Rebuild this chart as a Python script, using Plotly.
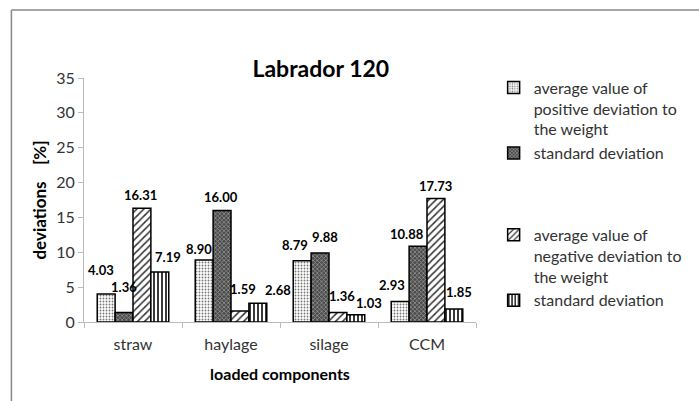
import plotly.graph_objects as go

# datos
componentes = ['straw', 'haylage', 'silage', 'CCM']
desv_positiva = [4.03, 8.90, 8.79, 2.93]
desv_std_positiva = [1.36, 16.00, 9.88, 10.88]
desv_negativa = [16.31, 1.59, 1.36, 17.73]
desv_std_negativa = [7.19, 2.68, 1.03, 1.85]

series = [desv_positiva, desv_std_positiva, desv_negativa, desv_std_negativa]

nombres = [
    'average value of<br>positive deviation to<br>the weight',
    'standard deviation',
    'average value of<br>negative deviation to<br>the weight',
    'standard deviation',
]

# estilo de relleno de cada serie (tipo Excel blanco y negro)
patrones = [
    dict(shape='.', bgcolor='white', fgcolor='#777777', size=3, solidity=0.3),
    dict(shape='x', bgcolor='#4a4a4a', fgcolor='#a0a0a0', size=3, solidity=0.4),
    dict(shape='/', bgcolor='white', fgcolor='#333333', size=5, solidity=0.3),
    dict(shape='|', bgcolor='white', fgcolor='#222222', size=4, solidity=0.45),
]
grupos = ['a', 'a', 'b', 'b']

# desplazamiento (px) de cada etiqueta respecto al tope de su barra, como en el original
desplaz_x = [[-5, 0, -1, 8], [-5, -1, 3, 20], [-7, 5, 4, 13], [-8, -11, 0, 5]]
desplaz_y = [[24, 26, 13, 15], [11, 13, 22, 13], [16, 16, 17, 12], [17, 12, 12, 17]]

bargap = 0.27
ancho_barra = (1 - bargap) / len(series)

fig = go.Figure()

for serie, nombre, patron, grupo in zip(series, nombres, patrones, grupos):
    fig.add_trace(go.Bar(
        x=componentes, y=serie, name=nombre, legendgroup=grupo,
        marker=dict(color='white', pattern=dict(fillmode='replace', **patron),
                    line=dict(color='black', width=1.5)),
    ))

# etiquetas de valores
for j, serie in enumerate(series):
    for i, v in enumerate(serie):
        fig.add_annotation(
            x=i + (j - 1.5) * ancho_barra, y=v, xref='x', yref='y',
            text='<b>%.2f</b>' % v, showarrow=False,
            xshift=desplaz_x[i][j], yshift=desplaz_y[i][j], yanchor='middle',
            font=dict(family='Lato', size=13, color='black'),
        )

fig.update_layout(
    width=699, height=401, barmode='group', bargap=bargap, bargroupgap=0,
    margin=dict(l=84, r=210, t=78, b=79),
    plot_bgcolor='white', paper_bgcolor='white',
    font=dict(family='Lato', size=16, color='#333333'),
    title=dict(text='<b>Labrador 120</b>', x=0.459, xanchor='center',
               y=1 - 69 / 401, yanchor='middle',
               font=dict(family='Lato', size=23, color='black')),
    legend=dict(x=1.045, y=1.03, xanchor='left', yanchor='top',
                traceorder='grouped', tracegroupgap=58,
                valign='top', itemwidth=30, maxheight=1,
                font=dict(family='Lato', size=16, color='#333333'),
                bgcolor='rgba(0,0,0,0)'),
)

fig.update_xaxes(
    title=dict(text='<b>loaded components</b>', standoff=16,
               font=dict(family='Lato', size=16, color='black')),
    automargin=False, showline=True, linecolor='#bbbbbb', linewidth=1,
    ticks='outside', tickson='boundaries', ticklen=5, tickcolor='#bbbbbb',
    ticklabelstandoff=8, tickfont=dict(size=16, color='#333333'),
)

fig.update_yaxes(
    title=dict(text='<b>deviations    [%]</b>', standoff=5,
               font=dict(family='Lato', size=17, color='black')),
    automargin=False, range=[0, 35], dtick=5, showgrid=False, zeroline=False,
    showline=True, linecolor='#bbbbbb', linewidth=1,
    ticks='outside', ticklen=5, tickcolor='#bbbbbb',
    tickfont=dict(size=16, color='#333333'),
)

# marco del area del grafico (solo se ven los bordes superior e izquierdo)
borde = dict(color='#888888', width=1.5)
fig.add_shape(type='line', xref='paper', yref='paper',
              x0=(9 - 84) / 405, x1=(760 - 84) / 405,
              y0=(322 - 10) / 244, y1=(322 - 10) / 244, line=borde, layer='below')
fig.add_shape(type='line', xref='paper', yref='paper',
              x0=(9 - 84) / 405, x1=(9 - 84) / 405,
              y0=(322 - 460) / 244, y1=(322 - 10) / 244, line=borde, layer='below')

# quitar el margen y las barras de desplazamiento de la pagina
fig.write_html('out.html', config={'displayModeBar': False},
               post_script="document.body.style.margin='0';"
                           "document.body.style.overflow='hidden';"
                           "document.documentElement.style.overflow='hidden';")
